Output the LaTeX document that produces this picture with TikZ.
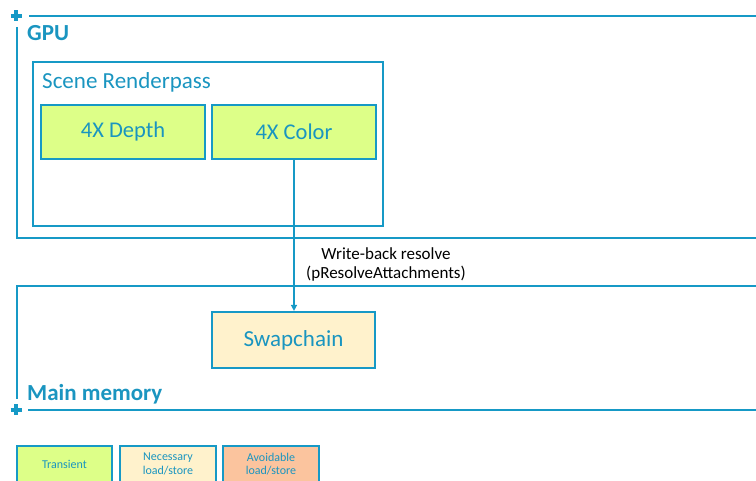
\documentclass[tikz,border=0pt]{standalone}
\usepackage{fontspec}
\setmainfont{Carlito}
\usetikzlibrary{arrows.meta}
\definecolor{lineblue}{HTML}{1699C6}
\definecolor{txtblue}{HTML}{1A95C0}
\definecolor{greenfill}{HTML}{DDFF88}
\definecolor{creamfill}{HTML}{FFF2CC}
\definecolor{peachfill}{HTML}{FBC49E}
\tikzset{
  frame/.style={draw=lineblue, line width=2pt},
  attach/.style={draw=lineblue, line width=2.2pt, fill=greenfill, text=txtblue, font=\fontsize{22.5}{26}\selectfont, inner sep=0pt},
  legendbox/.style={draw=lineblue, line width=2.4pt, text=txtblue, font=\fontsize{12}{13.5}\selectfont, inner sep=0pt, align=center},
  crossmark/.style={draw=lineblue, line width=3.6pt},
  title/.style={text=txtblue, font=\bfseries\fontsize{23}{26}\selectfont, anchor=base west, inner sep=0pt},
}
\begin{document}
\begin{tikzpicture}[x=1pt,y=-1pt]
\useasboundingbox (0,0) rectangle (756,481);
% GPU region
\draw[crossmark] (10.5,16) -- (21.5,16) (16,10.5) -- (16,21.5);
\draw[frame] (29,16) -- (756,16);
\draw[frame] (17,27) -- (17,238) -- (756,238);
\node[title] (gpu) at (27,41) {GPU};
% Main memory region
\draw[frame] (756,286) -- (17,286) -- (17,399);
\draw[frame] (28,410) -- (756,410);
\draw[crossmark] (10.5,410) -- (21.5,410) (16,404.5) -- (16,415.5);
\node[title] (mem) at (27,400) {Main memory};
% Scene renderpass
\draw[frame] (33,62) rectangle (383,226);
\node[text=txtblue, font=\fontsize{23}{26}\selectfont, anchor=base west, inner sep=0pt] (srp) at (42,89) {Scene Renderpass};
\node[attach, minimum width=164pt, minimum height=54pt] (depth) at (123,132) {4X Depth};
\node[attach, minimum width=164pt, minimum height=54pt] (color) at (294,132) {4X Color};
% Swapchain
\node[draw=lineblue, line width=2.2pt, fill=creamfill, text=txtblue, font=\fontsize{23}{26}\selectfont, minimum width=163pt, minimum height=56pt, inner sep=0pt] (swap) at (293.5,340) {Swapchain};
\draw[draw=lineblue, line width=1.6pt, -{Triangle[length=6pt,width=6pt]}] (color.south -| 294,0) -- (swap.north -| 294,0);
\node[font=\fontsize{17}{19}\selectfont, align=center, inner sep=0pt] (lbl) at (386,264) {Write-back resolve\\(pResolveAttachments)};
% Legend
\node[legendbox, fill=greenfill, minimum width=95pt, minimum height=36pt] (ltr) at (64.5,464) {Transient};
\node[legendbox, fill=creamfill, minimum width=96pt, minimum height=36pt] (lnec) at (168,464) {Necessary\\load/store};
\node[legendbox, fill=peachfill, minimum width=96pt, minimum height=36pt] (lavo) at (271,464) {Avoidable\\load/store};
\end{tikzpicture}
\end{document}
